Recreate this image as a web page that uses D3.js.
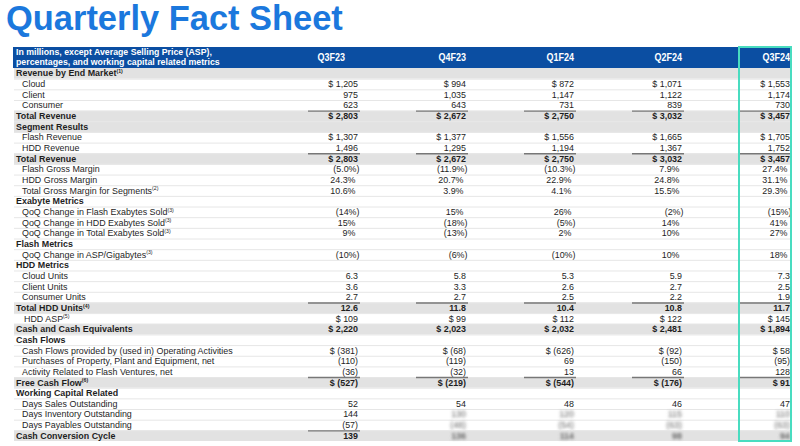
<!DOCTYPE html>
<html><head><meta charset="utf-8">
<script src="https://cdn.jsdelivr.net/npm/d3@7"></script>
<style>
html,body{margin:0;padding:0;background:#fff;}
svg{display:block;font-family:"Liberation Sans",Arial,sans-serif;}
</style></head>
<body>
<svg id="chart" width="800" height="446"></svg>
<script>
const title = "Quarterly Fact Sheet";
const headerLines = ["In millions, except Average Selling Price (ASP),", "percentages, and working capital related metrics"];
const quarters = ["Q3F23", "Q4F23", "Q1F24", "Q2F24", "Q3F24"];

const labels = [
  "Revenue by End Market", "Cloud", "Client", "Consumer", "Total Revenue",
  "Segment Results", "Flash Revenue", "HDD Revenue", "Total Revenue",
  "Flash Gross Margin", "HDD Gross Margin", "Total Gross Margin for Segments",
  "Exabyte Metrics", "QoQ Change in Flash Exabytes Sold", "QoQ Change in HDD Exabytes Sold", "QoQ Change in Total Exabytes Sold",
  "Flash Metrics", "QoQ Change in ASP/Gigabytes",
  "HDD Metrics", "Cloud Units", "Client Units", "Consumer Units", "Total HDD Units", "HDD ASP",
  "Cash and Cash Equivalents",
  "Cash Flows", "Cash Flows provided by (used in) Operating Activities", "Purchases of Property, Plant and Equipment, net", "Activity Related to Flash Ventures, net", "Free Cash Flow",
  "Working Capital Related", "Days Sales Outstanding", "Days Inventory Outstanding", "Days Payables Outstanding", "Cash Conversion Cycle"
];
const footnotes = ["1", "", "", "", "", "", "", "", "", "", "", "2", "", "3", "3", "3", "", "3", "", "", "", "", "4", "5", "", "", "", "", "", "6", "", "", "", "", ""];
const rowKinds = [
  "head", "item", "item", "item", "total",
  "head", "item", "item", "total",
  "item", "item", "item",
  "section", "item", "item", "item",
  "section", "item",
  "section", "item", "item", "item", "total", "subitem",
  "band",
  "section", "item", "item", "item", "total",
  "section", "item", "item", "item", "total"
];
const formats = [
  null, "usd", "int", "int", "usd",
  null, "usd", "int", "usd",
  "pct1", "pct1", "pct1",
  null, "pct0", "pct0", "pct0",
  null, "pct0",
  null, "dec1", "dec1", "dec1", "dec1", "usd",
  "usd",
  null, "usd", "int", "int", "usd",
  null, "int", "int", "int", "int"
];
const q3f23 = [null, 1205, 975, 623, 2803, null, 1307, 1496, 2803, -5.0, 24.3, 10.6, null, -14, 15, 9, null, -10, null, 6.3, 3.6, 2.7, 12.6, 109, 2220, null, -381, -110, -36, -527, null, 52, 144, -57, 139];
const q4f23 = [null, 994, 1035, 643, 2672, null, 1377, 1295, 2672, -11.9, 20.7, 3.9, null, 15, -18, -13, null, -6, null, 5.8, 3.3, 2.7, 11.8, 99, 2023, null, -68, -119, -32, -219, null, 54, 130, -48, 136];
const q1f24 = [null, 872, 1147, 731, 2750, null, 1556, 1194, 2750, -10.3, 22.9, 4.1, null, 26, -5, 2, null, -10, null, 5.3, 2.6, 2.5, 10.4, 112, 2032, null, -626, 69, 13, -544, null, 48, 120, -54, 114];
const q2f24 = [null, 1071, 1122, 839, 3032, null, 1665, 1367, 3032, 7.9, 24.8, 15.5, null, -2, 14, 10, null, 10, null, 5.9, 2.7, 2.2, 10.8, 122, 2481, null, -92, -150, 66, -176, null, 46, 115, -63, 98];
const q3f24 = [null, 1553, 1174, 730, 3457, null, 1705, 1752, 3457, 27.4, 31.1, 29.3, null, -15, 41, 27, null, 18, null, 7.3, 2.5, 1.9, 11.7, 145, 1894, null, 58, -95, 128, 91, null, 47, 110, -63, 94];
const seriesValues = [q3f23, q4f23, q1f24, q2f24, q3f24];
// rows whose later-quarter cells are obscured in the source picture
const obscuredRows = [32, 33, 34];

const svg = d3.select("#chart");
const tableLeft = 13, tableRight = 791;
const headTop = 47, headBottom = 68, tableBottom = 441;
const SX = 0.9;          // horizontal compression of table text
const FS = 9.9;          // table font size
const INK = "#1e1e1e";

const defs = svg.append("defs");
defs.append("filter").attr("id", "blur").attr("x", "-20%").attr("y", "-50%").attr("width", "140%").attr("height", "200%")
  .append("feGaussianBlur").attr("stdDeviation", 1.6);

// title
const t = svg.append("text").attr("x", 6).attr("y", 30)
  .attr("font-weight", "bold").attr("font-size", 37).attr("fill", "#1b78dd").text(title);
const tl = t.node().getComputedTextLength();
t.attr("font-size", 37 * 337 / tl);

const y = d3.scaleBand().domain(d3.range(labels.length)).range([headBottom, tableBottom]);
const x = d3.scaleBand().domain(quarters).range([250, 790]);
const rh = y.bandwidth();
const base = rh - 2.2;

// header
svg.append("rect").attr("x", tableLeft).attr("y", headTop).attr("width", tableRight - tableLeft).attr("height", headBottom - headTop).attr("fill", "#0b4ea2");
const hl = svg.selectAll("text.hl").data(headerLines).join("text").attr("class", "hl")
  .attr("font-size", 8.5).attr("font-weight", "bold").attr("fill", "#fff").text(d => d);
const hTarget = [196, 204];
hl.each(function (d, i) {
  const w = this.getComputedTextLength();
  d3.select(this).attr("transform", `translate(16,${55.2 + i * 9.6}) scale(${hTarget[i] / w},1)`);
});
svg.selectAll("text.qh").data(quarters).join("text").attr("class", "qh")
  .attr("transform", (d, i) => `translate(${x(d) + x.bandwidth() - (i === 0 ? 13 : 0)},61) scale(${SX},1)`)
  .attr("text-anchor", "end")
  .attr("font-size", 10).attr("font-weight", "bold").attr("fill", "#fff").text(d => d);

const rows = svg.append("g").selectAll("g").data(labels).join("g")
  .attr("transform", (d, i) => `translate(0,${y(i)})`);

// shaded rows
rows.filter((d, i) => ["head", "total", "band"].includes(rowKinds[i]))
  .append("rect").attr("x", tableLeft + 1).attr("width", tableRight - tableLeft - 1).attr("height", rh).attr("fill", "#e2e2e2");

// separators
rows.filter((d, i) => i > 0).append("line").attr("x1", tableLeft + 1).attr("x2", tableRight).attr("y1", 0.5).attr("y2", 0.5)
  .attr("stroke", "#e6e6e6").attr("stroke-width", 1);

// labels
const isBold = k => k === "head" || k === "section" || k === "total" || k === "band";
rows.each(function (d, i) {
  const k = rowKinds[i];
  const lx = isBold(k) ? 16 : (k === "subitem" ? 24 : 22);
  const tx = d3.select(this).append("text")
    .attr("transform", `translate(${lx},${base}) scale(${SX},1)`)
    .attr("font-size", FS).attr("fill", INK)
    .attr("font-weight", isBold(k) ? "bold" : "normal");
  tx.append("tspan").text(d);
  if (footnotes[i]) tx.append("tspan").attr("font-size", 5.8).attr("dy", -3.4).text("(" + footnotes[i] + ")");
});

// value formatting
const fInt = d3.format(","), f1 = d3.format(",.1f");
function fmt(v, f) {
  const a = Math.abs(v);
  let s;
  if (f === "pct1") s = f1(a) + "%";
  else if (f === "pct0") s = fInt(a) + "%";
  else if (f === "dec1") s = f1(a);
  else s = fInt(a);
  if (v < 0) s = "(" + s + ")";
  if (f === "usd") s = "$ " + s;
  return s;
}

// underlines above totals
const totals = d3.range(labels.length).filter(i => rowKinds[i] === "total");
quarters.forEach((q, qi) => {
  totals.forEach(i => {
    const ln = svg.append("line").attr("x1", x(q) + x.bandwidth() - 50).attr("x2", x(q) + x.bandwidth() + 2)
      .attr("y1", y(i) + 0.5).attr("y2", y(i) + 0.5).attr("stroke", "#777").attr("stroke-width", 1.4);
    if (qi > 0 && obscuredRows.includes(i)) ln.attr("filter", "url(#blur)");
  });
});

// values
quarters.forEach((q, qi) => {
  const vals = seriesValues[qi];
  rows.each(function (d, i) {
    const v = vals[i];
    if (v === null || v === undefined) return;
    const f = formats[i];
    let xx = x(q) + x.bandwidth();
    if (f === "pct1" || f === "pct0") xx += v < 0 ? 1.5 : -2.5;
    const sel = d3.select(this).append("text")
      .attr("transform", `translate(${xx},${base}) scale(${SX},1)`)
      .attr("text-anchor", "end")
      .attr("font-size", FS).attr("fill", INK)
      .attr("font-weight", isBold(rowKinds[i]) ? "bold" : "normal")
      .text(fmt(v, f));
    if (qi > 0 && obscuredRows.includes(i)) sel.attr("filter", "url(#blur)").attr("fill", "#666");
  });
});

// highlight box around latest quarter
svg.append("rect").attr("x", x("Q3F24") + x.bandwidth() - 51).attr("y", headTop)
  .attr("width", 52).attr("height", tableBottom - headTop)
  .attr("fill", "none").attr("stroke", "#49dcc0").attr("stroke-width", 2);
</script>
</body></html>
